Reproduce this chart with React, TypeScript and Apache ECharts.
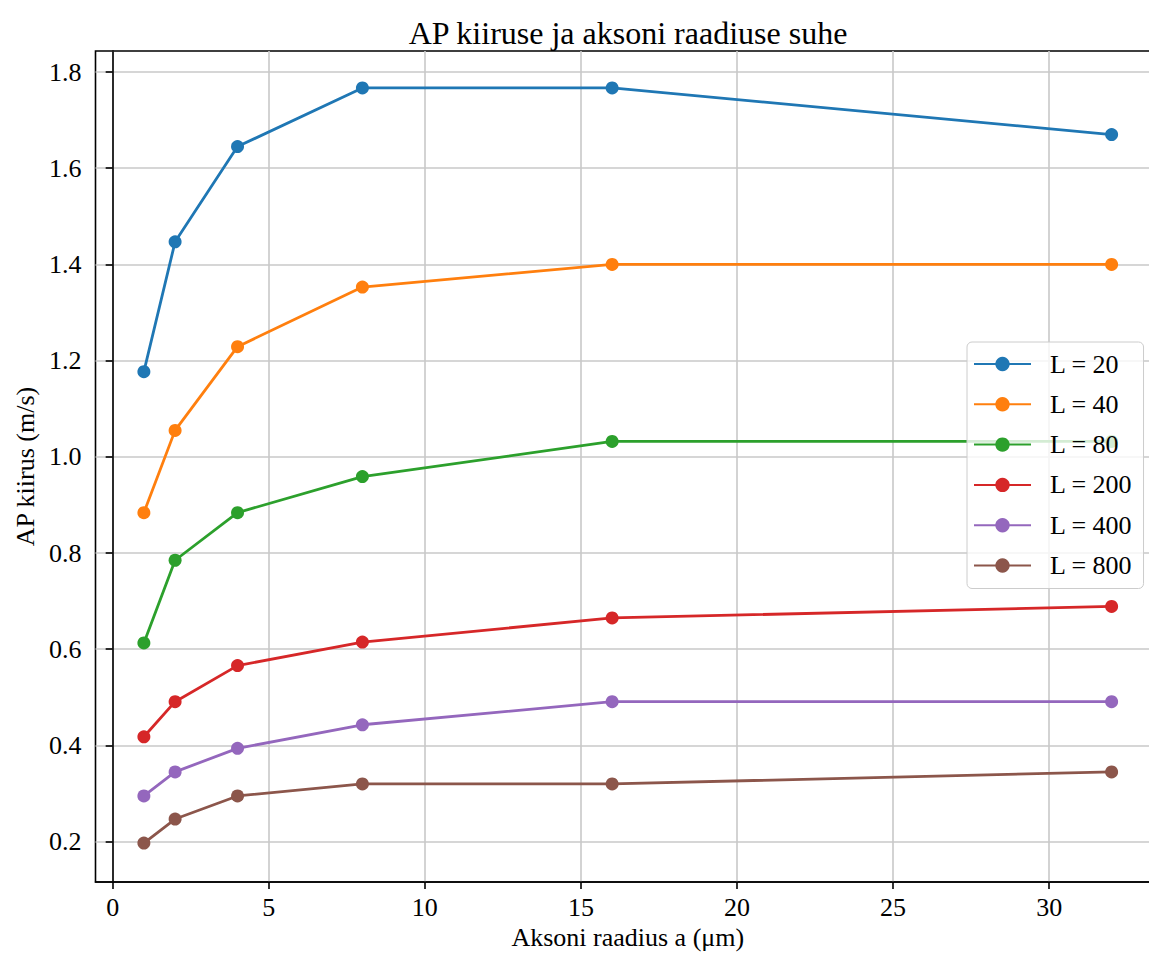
import React, { useEffect, useRef } from "react";
import * as echarts from "echarts";

const radii = [1, 2, 4, 8, 16, 32];
const seriesNames = ["L = 20", "L = 40", "L = 80", "L = 200", "L = 400", "L = 800"];
const colors = ["#1f77b4", "#ff7f0e", "#2ca02c", "#d62728", "#9467bd", "#8c564b"];
const L20 = [1.177, 1.447, 1.645, 1.767, 1.767, 1.670];
const L40 = [0.884, 1.055, 1.229, 1.353, 1.400, 1.400];
const L80 = [0.613, 0.785, 0.884, 0.959, 1.032, 1.032];
const L200 = [0.418, 0.491, 0.566, 0.615, 0.665, 0.689];
const L400 = [0.295, 0.345, 0.394, 0.443, 0.491, 0.491];
const L800 = [0.197, 0.247, 0.295, 0.320, 0.320, 0.345];
const xTicks = [0, 5, 10, 15, 20, 25, 30];
const yTicks = [0.2, 0.4, 0.6, 0.8, 1.0, 1.2, 1.4, 1.6, 1.8];

const allSeries = [L20, L40, L80, L200, L400, L800];
const FONT = "Liberation Serif";

export default function App() {
  const ref = useRef<HTMLDivElement>(null);
  useEffect(() => {
    if (!ref.current) return;
    const chart = echarts.init(ref.current, undefined, { renderer: "svg" });
    chart.setOption({
      animation: false,
      backgroundColor: "#ffffff",
      textStyle: { fontFamily: FONT },
      title: {
        text: "AP kiiruse ja aksoni raadiuse suhe",
        left: "center",
        top: 12,
        textStyle: { fontFamily: FONT, fontSize: 32, fontWeight: "normal", color: "#000" },
      },
      grid: {
        left: 95.5,
        right: 96,
        top: 51,
        bottom: 72,
        show: true,
        borderColor: "#000",
        borderWidth: 1.6,
        containLabel: false,
        outerBoundsMode: "none",
      },
      legend: {
        orient: "vertical",
        left: 967,
        top: 342,
        data: seriesNames,
        itemWidth: 57,
        itemHeight: 18,
        itemGap: 14.3,
        padding: [9, 11, 10, 6],
        backgroundColor: "rgba(255,255,255,0.8)",
        borderColor: "#cccccc",
        borderWidth: 1,
        borderRadius: 5,
        textStyle: {
          fontFamily: FONT,
          fontSize: 26,
          color: "#000",
          lineHeight: 26,
          padding: [0, 0, 0, 14],
        },
      },
      xAxis: {
        type: "value",
        min: -0.55,
        max: 33.55,
        name: "Aksoni raadius a (μm)",
        nameLocation: "middle",
        nameGap: 40,
        nameTextStyle: { fontFamily: FONT, fontSize: 26, color: "#000" },
        axisLine: { show: true, lineStyle: { color: "#000", width: 1.6 } },
        axisTick: { show: true, length: 7, lineStyle: { color: "#000", width: 1.6 }, customValues: xTicks },
        axisLabel: {
          fontFamily: FONT,
          fontSize: 26,
          color: "#000",
          margin: 12,
          customValues: xTicks,
        },
        splitLine: { show: true, lineStyle: { color: "#c8c8c8", width: 1.6 } },
      },
      yAxis: {
        type: "value",
        min: 0.1161,
        max: 1.8437,
        name: "AP kiirus (m/s)",
        nameLocation: "middle",
        nameGap: 55,
        nameTextStyle: { fontFamily: FONT, fontSize: 26, color: "#000" },
        axisLine: { show: true, lineStyle: { color: "#000", width: 1.6 } },
        axisTick: { show: true, length: 7, lineStyle: { color: "#000", width: 1.6 }, customValues: yTicks },
        axisLabel: {
          fontFamily: FONT,
          fontSize: 26,
          color: "#000",
          margin: 14,
          customValues: yTicks,
          formatter: (v: number) => v.toFixed(1),
        },
        splitLine: { show: true, lineStyle: { color: "#c8c8c8", width: 1.6 } },
      },
      series: allSeries.map((vals, i) => ({
        name: seriesNames[i],
        type: "line",
        data: radii.map((r, j) => [r, vals[j]]),
        symbol: "circle",
        symbolSize: 13,
        color: colors[i],
        itemStyle: { color: colors[i] },
        lineStyle: { color: colors[i], width: 2.8 },
      })),
    });
    return () => chart.dispose();
  }, []);
  return (
    <div style={{ position: "fixed", left: 0, top: 0, width: 1149, height: 954, overflow: "hidden", background: "#fff" }}>
      <div ref={ref} style={{ width: 1256, height: 954 }} />
    </div>
  );
}
